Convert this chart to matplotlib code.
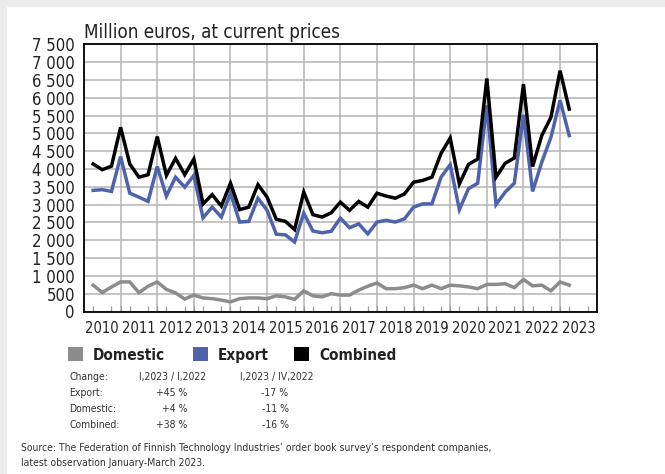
import matplotlib.pyplot as plt
from matplotlib import font_manager
from matplotlib.patches import Rectangle
from matplotlib.ticker import FuncFormatter

# quarterly order book, million euros, 2010 Q1 .. 2023 Q1
years = list(range(2010, 2024))
combined = [4140, 3980, 4080, 5170, 4140, 3770, 3840, 4910, 3820, 4300, 3840, 4280,
            3020, 3280, 2960, 3600, 2860, 2930, 3560, 3210, 2590, 2530, 2300, 3350,
            2720, 2650, 2770, 3070, 2840, 3090, 2930, 3320, 3240, 3180, 3300, 3630,
            3680, 3770, 4440, 4870, 3580, 4130, 4280, 6540, 3770, 4160, 4310, 6380,
            4070, 4940, 5450, 6760, 5680]
export = [3400, 3420, 3370, 4350, 3320, 3210, 3090, 4070, 3240, 3770, 3490, 3820,
          2630, 2930, 2650, 3320, 2510, 2530, 3180, 2840, 2170, 2150, 1950, 2760,
          2260, 2210, 2250, 2620, 2350, 2460, 2180, 2510, 2560, 2510, 2600, 2930,
          3020, 3020, 3770, 4120, 2860, 3450, 3600, 5790, 3000, 3350, 3600, 5520,
          3370, 4190, 4890, 5930, 4940]
domestic = [740, 530, 690, 830, 830, 530, 710, 830, 620, 520, 350, 460,
            380, 360, 320, 270, 360, 380, 380, 360, 440, 410, 340, 580,
            440, 410, 500, 460, 460, 600, 710, 800, 640, 640, 670, 740,
            640, 740, 640, 740, 720, 690, 640, 760, 760, 780, 670, 900,
            720, 740, 580, 830, 740]

change_rows = ["Change:", "Export:", "Domestic:", "Combined:"]
change_yoy = ["I,2023 / I,2022", "+45 %", "+4 %", "+38 %"]
change_qoq = ["I,2023 / IV,2022", "-17 %", "-11 %", "-16 %"]

GRAY = "#8c8c8c"
BLUE = "#4f63ad"
TXT = "#222222"
W, H = 665, 474

# the original uses a narrow DIN-like face; use a condensed font if one is installed
narrow = [f for f in font_manager.fontManager.ttflist
          if 'condensed' in str(f.stretch) or 'Narrow' in f.name or 'Condensed' in f.name]
if narrow:
    plt.rcParams['font.family'] = [narrow[0].name, 'DejaVu Sans']
    plt.rcParams['font.stretch'] = narrow[0].stretch
    sz_title, sz_y, sz_x, sz_leg, sz_small = 13.5, 12, 10.5, 11, 7.5
else:
    plt.rcParams['font.family'] = ['Roboto', 'DejaVu Sans']
    sz_title, sz_y, sz_x, sz_leg, sz_small = 12.5, 12, 10.5, 10.5, 7.5

fig = plt.figure(figsize=(W / 100, H / 100), dpi=100, facecolor="#ececec")
fig.patches.append(Rectangle((7 / W, 0), 1 - 7 / W, 1 - 7 / H, transform=fig.transFigure,
                             facecolor="white", edgecolor="none", zorder=-10))


def fx(px):
    return px / W


def fy(py):
    return 1 - py / H


ax = fig.add_axes([fx(84), fy(311.5), fx(596.7) - fx(84), fy(44.3) - fy(311.5)])
q = list(range(len(combined)))
ax.plot(q, domestic, color=GRAY, lw=2.5, solid_joinstyle='miter', zorder=3)
ax.plot(q, export, color=BLUE, lw=2.5, solid_joinstyle='miter', zorder=4)
ax.plot(q, combined, color="black", lw=2.5, solid_joinstyle='miter', zorder=5)

ax.set_xlim(-1, 55)
ax.set_ylim(0, 7500)
ax.set_yticks(range(0, 7501, 500))
ax.yaxis.set_major_formatter(FuncFormatter(lambda v, p: f"{int(v):,}".replace(",", " ")))
ax.grid(axis='y', color="#b4b4b4", lw=1.1, zorder=1)
for i in range(len(years) - 1):
    ax.axvline(i * 4 + 3, color="#b4b4b4", lw=1.1, zorder=1)

ax.set_xticks([i * 4 + 1 for i in range(len(years))])
ax.set_xticklabels([str(y) for y in years])
ax.set_xticks(range(0, 55), minor=True)
ax.tick_params(axis='x', which='major', length=0, pad=7, labelsize=sz_x, labelcolor=TXT)
ax.tick_params(axis='x', which='minor', direction='in', length=4.5, width=0.9, color="#999999")
ax.tick_params(axis='y', length=0, pad=6.5, labelsize=sz_y, labelcolor=TXT)
for s in ax.spines.values():
    s.set_linewidth(1.3)
    s.set_zorder(6)

fig.text(fx(84), fy(37.5), "Million euros, at current prices", fontsize=sz_title,
         color=TXT, va='baseline')

# legend
for x0, lab, col in [(68, "Domestic", GRAY), (193, "Export", BLUE), (294, "Combined", "black")]:
    fig.patches.append(Rectangle((fx(x0), fy(361)), fx(15), 14 / H, transform=fig.transFigure,
                                 facecolor=col, edgecolor="none"))
    fig.text(fx(x0 + 25), fy(360), lab, fontsize=sz_leg, fontweight='bold',
             color=TXT, va='baseline')

# change table
for k, yb in enumerate([380, 396, 412.3, 428.3]):
    fig.text(fx(69), fy(yb), change_rows[k], fontsize=sz_small, color="#333333", va='baseline')
    if k == 0:
        fig.text(fx(139), fy(yb), change_yoy[k], fontsize=sz_small, color="#333333", va='baseline')
        fig.text(fx(240), fy(yb), change_qoq[k], fontsize=sz_small, color="#333333", va='baseline')
    else:
        fig.text(fx(187.5), fy(yb), change_yoy[k], fontsize=sz_small, color="#333333",
                 va='baseline', ha='right')
        fig.text(fx(288.5), fy(yb), change_qoq[k], fontsize=sz_small, color="#333333",
                 va='baseline', ha='right')

fig.text(fx(21), fy(450.7), "Source: The Federation of Finnish Technology Industries\u2019 order book "
         "survey\u2019s respondent companies,", fontsize=sz_small, color="#333333", va='baseline')
fig.text(fx(21), fy(466), "latest observation January-March 2023.", fontsize=sz_small,
         color="#333333", va='baseline')

fig.savefig("out.png", dpi=100, facecolor=fig.get_facecolor())
